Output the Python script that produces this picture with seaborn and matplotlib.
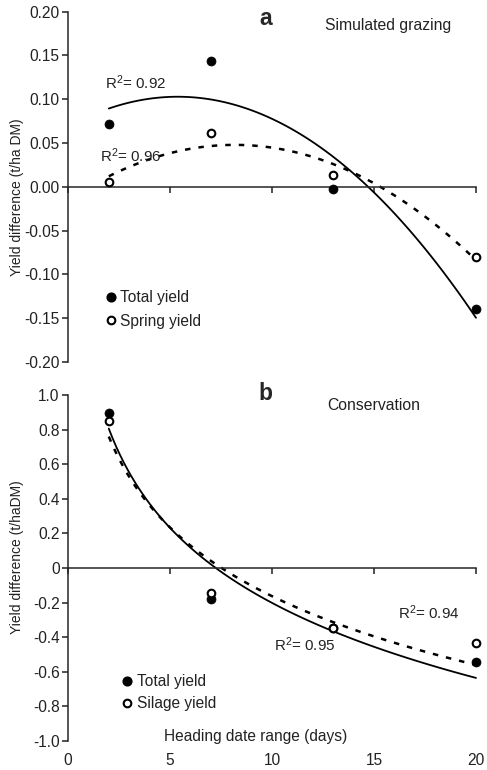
import numpy as np
import pandas as pd
import seaborn as sns
import matplotlib.pyplot as plt
from matplotlib.lines import Line2D

# heading date range (days) for both panels
days = [2, 7, 13, 20]

# panel a: simulated grazing (t/ha DM)
graze_total = [0.072, 0.144, -0.003, -0.139]
graze_spring = [0.006, 0.062, 0.013, -0.080]

# panel b: conservation (t/ha DM)
cons_total = [0.894, -0.180, -0.346, -0.542]
cons_silage = [0.850, -0.143, -0.346, -0.433]

x_ticks = [0, 5, 10, 15, 20]
a_yticks = [-0.20, -0.15, -0.10, -0.05, 0.00, 0.05, 0.10, 0.15, 0.20]
a_ylabels = ['-0.20', '-0.15', '-0.10', '-0.05', '0.00', '0.05', '0.10', '0.15', '0.20']
b_yticks = [-1.0, -0.8, -0.6, -0.4, -0.2, 0.0, 0.2, 0.4, 0.6, 0.8, 1.0]
b_ylabels = ['-1.0', '-0.8', '-0.6', '-0.4', '-0.2', '0', '0.2', '0.4', '0.6', '0.8', '1.0']

sns.set_style('ticks')
plt.rcParams['font.family'] = ['Liberation Sans', 'DejaVu Sans']
plt.rcParams['mathtext.default'] = 'regular'
plt.rcParams['axes.linewidth'] = 1.1
plt.rcParams['xtick.color'] = '#222222'
plt.rcParams['ytick.color'] = '#222222'

fig = plt.figure(figsize=(4.87, 7.70), dpi=100)
ax1 = fig.add_axes([0.1396, 0.5299, 0.8378, 0.4549])
ax2 = fig.add_axes([0.1396, 0.0377, 0.8378, 0.4493])

dash = (0, (2.2, 3.2))
txt = '#222222'
fs = 11.2


def draw_panel(ax, total, other, logx):
    df = pd.DataFrame({'days': days, 'total': total, 'other': other})
    sns.regplot(data=df, x='days', y='total', order=1 if logx else 2, logx=logx,
                ci=None, scatter=False, color='black', line_kws={'lw': 1.3}, ax=ax)
    sns.regplot(data=df, x='days', y='other', order=1 if logx else 2, logx=logx,
                ci=None, scatter=False, color='black', line_kws={'lw': 1.8, 'ls': dash}, ax=ax)
    sns.scatterplot(data=df, x='days', y='total', color='black', s=42,
                    edgecolor='black', linewidth=0.5, ax=ax, zorder=3, clip_on=False)
    sns.scatterplot(data=df, x='days', y='other', color='white', s=30,
                    edgecolor='black', linewidth=1.5, ax=ax, zorder=4, clip_on=False)
    for ln in ax.lines:
        ln.set_clip_on(False)
    ax.spines['top'].set_visible(False)
    ax.spines['right'].set_visible(False)
    ax.spines['bottom'].set_position(('data', 0))
    ax.set_xlim(0, 20)
    ax.set_xticks(x_ticks)
    ax.tick_params(axis='x', labelbottom=False, direction='out', length=4, width=1.1)
    ax.tick_params(axis='y', direction='out', length=4, width=1.1, labelsize=fs, pad=2)
    ax.set_xlabel('')


# ---- panel a ----
draw_panel(ax1, graze_total, graze_spring, logx=False)
ax1.set_ylim(-0.20, 0.20)
ax1.set_yticks(a_yticks)
ax1.set_yticklabels(a_ylabels)
ax1.set_ylabel('Yield difference (t/ha DM)', fontsize=10, color=txt)
ax1.yaxis.set_label_coords(-0.108, 0.47)
ax1.text(1.8, 0.119, 'R$^2$= 0.92', fontsize=10.9, color=txt, va='center')
ax1.text(1.55, 0.036, 'R$^2$= 0.96', fontsize=10.9, color=txt, va='center')
ax1.text(9.7, 0.192, 'a', fontsize=16.5, fontweight='bold', ha='center', va='center')
ax1.text(12.6, 0.184, 'Simulated grazing', fontsize=11.3, color=txt, va='center')
h1 = [Line2D([], [], ls='', marker='o', color='black', ms=6.3),
      Line2D([], [], ls='', marker='o', mfc='white', mec='black', mew=1.5, ms=5.5)]
ax1.legend(h1, ['Total yield', 'Spring yield'], loc='lower left', bbox_to_anchor=(0.06, 0.055),
           frameon=False, handlelength=0.6, handletextpad=0.3, labelspacing=0.55,
           fontsize=fs, labelcolor=txt)

# ---- panel b ----
draw_panel(ax2, cons_total, cons_silage, logx=True)
ax2.set_ylim(-1.0, 1.0)
ax2.set_yticks(b_yticks)
ax2.set_yticklabels(b_ylabels)
ax2.set_ylabel('Yield difference (t/haDM)', fontsize=10, color=txt)
ax2.yaxis.set_label_coords(-0.108, 0.53)
ax2.text(16.2, -0.258, 'R$^2$= 0.94', fontsize=10.9, color=txt, va='center')
ax2.text(10.1, -0.443, 'R$^2$= 0.95', fontsize=10.9, color=txt, va='center')
ax2.text(9.7, 1.01, 'b', fontsize=16.5, fontweight='bold', ha='center', va='center')
ax2.text(12.7, 0.94, 'Conservation', fontsize=11.3, color=txt, va='center')
h2 = [Line2D([], [], ls='', marker='o', color='black', ms=6.3),
      Line2D([], [], ls='', marker='o', mfc='white', mec='black', mew=1.5, ms=5.5)]
ax2.legend(h2, ['Total yield', 'Silage yield'], loc='lower left', bbox_to_anchor=(0.10, 0.045),
           frameon=False, handlelength=0.6, handletextpad=0.3, labelspacing=0.45,
           fontsize=fs, labelcolor=txt)
ax2.text(0.46, 0.012, 'Heading date range (days)', transform=ax2.transAxes,
         ha='center', va='center', fontsize=fs, color=txt)

# tick labels of the day axis sit below the panel, not on the zero line
sec = ax2.secondary_xaxis('bottom')
sec.set_xticks(x_ticks)
sec.spines['bottom'].set_visible(False)
sec.tick_params(length=0, pad=9, labelsize=fs, colors=txt)

fig.savefig('out.png', dpi=100)
